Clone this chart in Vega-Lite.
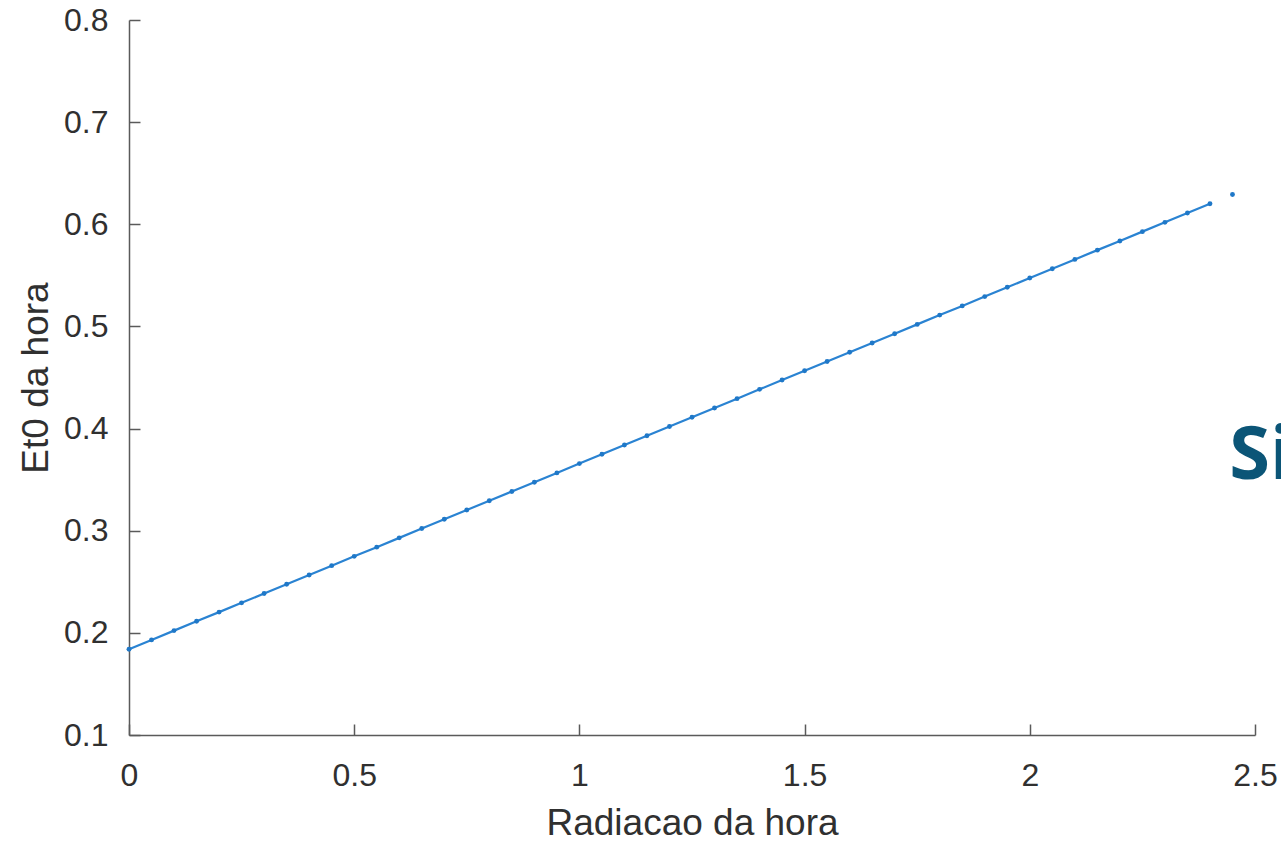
{
  "$schema": "https://vega.github.io/schema/vega-lite/v6.json",
  "width": 1126,
  "height": 715,
  "autosize": {"type": "none"},
  "padding": {"left": 129, "top": 20, "right": 26, "bottom": 107},
  "background": "white",
  "config": {
    "view": {"stroke": null},
    "font": "Liberation Sans",
    "axis": {
      "grid": false,
      "domainColor": "#5a5a5a",
      "domainWidth": 1.5,
      "tickColor": "#5a5a5a",
      "tickWidth": 1.5,
      "tickSize": -11,
      "labelColor": "#303030",
      "titleColor": "#303030",
      "labelFont": "Liberation Sans",
      "titleFont": "Liberation Sans",
      "labelFontSize": 32,
      "titleFontSize": 37,
      "titleFontWeight": "normal"
    }
  },
  "data": {
    "values": [
      {"rad": 0.00, "et0": 0.1840, "seg": "a"},
      {"rad": 0.05, "et0": 0.1931, "seg": "a"},
      {"rad": 0.10, "et0": 0.2022, "seg": "a"},
      {"rad": 0.15, "et0": 0.2113, "seg": "a"},
      {"rad": 0.20, "et0": 0.2203, "seg": "a"},
      {"rad": 0.25, "et0": 0.2294, "seg": "a"},
      {"rad": 0.30, "et0": 0.2385, "seg": "a"},
      {"rad": 0.35, "et0": 0.2476, "seg": "a"},
      {"rad": 0.40, "et0": 0.2567, "seg": "a"},
      {"rad": 0.45, "et0": 0.2658, "seg": "a"},
      {"rad": 0.50, "et0": 0.2749, "seg": "a"},
      {"rad": 0.55, "et0": 0.2839, "seg": "a"},
      {"rad": 0.60, "et0": 0.2930, "seg": "a"},
      {"rad": 0.65, "et0": 0.3021, "seg": "a"},
      {"rad": 0.70, "et0": 0.3112, "seg": "a"},
      {"rad": 0.75, "et0": 0.3203, "seg": "a"},
      {"rad": 0.80, "et0": 0.3294, "seg": "a"},
      {"rad": 0.85, "et0": 0.3384, "seg": "a"},
      {"rad": 0.90, "et0": 0.3475, "seg": "a"},
      {"rad": 0.95, "et0": 0.3566, "seg": "a"},
      {"rad": 1.00, "et0": 0.3657, "seg": "a"},
      {"rad": 1.05, "et0": 0.3748, "seg": "a"},
      {"rad": 1.10, "et0": 0.3839, "seg": "a"},
      {"rad": 1.15, "et0": 0.3930, "seg": "a"},
      {"rad": 1.20, "et0": 0.4020, "seg": "a"},
      {"rad": 1.25, "et0": 0.4111, "seg": "a"},
      {"rad": 1.30, "et0": 0.4202, "seg": "a"},
      {"rad": 1.35, "et0": 0.4293, "seg": "a"},
      {"rad": 1.40, "et0": 0.4384, "seg": "a"},
      {"rad": 1.45, "et0": 0.4475, "seg": "a"},
      {"rad": 1.50, "et0": 0.4566, "seg": "a"},
      {"rad": 1.55, "et0": 0.4656, "seg": "a"},
      {"rad": 1.60, "et0": 0.4747, "seg": "a"},
      {"rad": 1.65, "et0": 0.4838, "seg": "a"},
      {"rad": 1.70, "et0": 0.4929, "seg": "a"},
      {"rad": 1.75, "et0": 0.5020, "seg": "a"},
      {"rad": 1.80, "et0": 0.5111, "seg": "a"},
      {"rad": 1.85, "et0": 0.5201, "seg": "a"},
      {"rad": 1.90, "et0": 0.5292, "seg": "a"},
      {"rad": 1.95, "et0": 0.5383, "seg": "a"},
      {"rad": 2.00, "et0": 0.5474, "seg": "a"},
      {"rad": 2.05, "et0": 0.5565, "seg": "a"},
      {"rad": 2.10, "et0": 0.5656, "seg": "a"},
      {"rad": 2.15, "et0": 0.5747, "seg": "a"},
      {"rad": 2.20, "et0": 0.5837, "seg": "a"},
      {"rad": 2.25, "et0": 0.5928, "seg": "a"},
      {"rad": 2.30, "et0": 0.6019, "seg": "a"},
      {"rad": 2.35, "et0": 0.6110, "seg": "a"},
      {"rad": 2.40, "et0": 0.6201, "seg": "a"},
      {"rad": 2.45, "et0": 0.6292, "seg": "b"}
    ]
  },
  "layer": [
    {
      "mark": {"type": "line", "color": "#2a83d2", "strokeWidth": 2.2},
      "encoding": {
        "x": {"field": "rad", "type": "quantitative", "scale": {"domain": [0, 2.5], "nice": false, "zero": false},
              "axis": {"title": "Radiacao da hora", "values": [0, 0.5, 1, 1.5, 2, 2.5], "format": "~g", "labelPadding": 36, "titlePadding": 14, "labelFlush": false}},
        "y": {"field": "et0", "type": "quantitative", "scale": {"domain": [0.1, 0.8], "nice": false, "zero": false},
              "axis": {"title": "Et0 da hora", "values": [0.1, 0.2, 0.3, 0.4, 0.5, 0.6, 0.7, 0.8], "format": ".1f", "labelPadding": 32, "titlePadding": 8, "labelFlush": false}},
        "detail": {"field": "seg"}
      }
    },
    {
      "mark": {"type": "point", "filled": true, "color": "#1f78c8", "size": 24, "opacity": 1},
      "encoding": {
        "x": {"field": "rad", "type": "quantitative"},
        "y": {"field": "et0", "type": "quantitative"}
      }
    },
    {
      "data": {"values": [{"label": "Si", "rad": 2.443, "et0": 0.372}]},
      "mark": {"type": "text", "align": "left", "baseline": "middle", "font": "Open Sans", "fontWeight": "bold", "fontSize": 74, "color": "#0b5577"},
      "encoding": {
        "x": {"field": "rad", "type": "quantitative"},
        "y": {"field": "et0", "type": "quantitative"},
        "text": {"field": "label"}
      }
    }
  ]
}
